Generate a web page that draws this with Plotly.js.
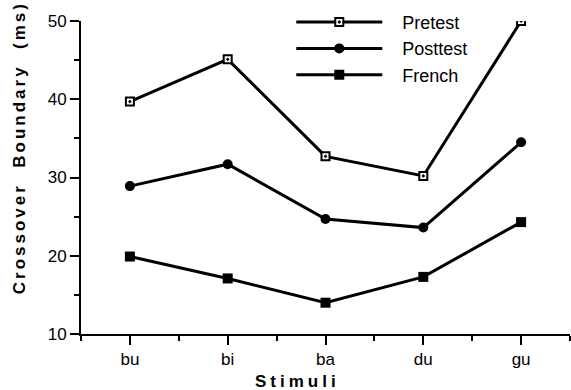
<!DOCTYPE html>
<html>
<head>
<meta charset="utf-8">
<script src="https://cdn.plot.ly/plotly-3.0.1.min.js"></script>
<style>
  html, body { margin: 0; padding: 0; background: #fff; }
  #chart { width: 571px; height: 390px; }
  .annotation[data-index="0"] text { letter-spacing: 4px; }
  .annotation[data-index="1"] text { letter-spacing: 3px; }
</style>
</head>
<body>
<div id="chart"></div>
<script>
const categories = ["bu", "bi", "ba", "du", "gu"];
const seriesNames = ["Pretest", "Posttest", "French"];
const pretest  = [39.7, 45.1, 32.7, 30.2, 50.0];
const posttest = [28.9, 31.7, 24.7, 23.6, 34.5];
const french   = [19.9, 17.1, 14.0, 17.3, 24.3];
const yTicks = [10, 20, 30, 40, 50];

const xIdx = categories.map((c, i) => i);
const font = "'Liberation Sans', Arial, Helvetica, sans-serif";
const pad = "\u00A0\u00A0\u00A0";

const traces = [
  {
    name: pad + seriesNames[0], x: xIdx, y: pretest, type: "scatter", mode: "lines+markers",
    legendgroup: "a",
    line: { color: "black", width: 3 },
    marker: { symbol: "square-dot", size: 8, color: "white", line: { color: "black", width: 2 } }
  },
  {
    name: pad + seriesNames[1], x: xIdx, y: posttest, type: "scatter", mode: "lines+markers",
    legendgroup: "b",
    line: { color: "black", width: 3 },
    marker: { symbol: "circle", size: 10, color: "black" }
  },
  {
    name: pad + seriesNames[2], x: xIdx, y: french, type: "scatter", mode: "lines+markers",
    legendgroup: "c",
    line: { color: "black", width: 3 },
    marker: { symbol: "square", size: 10, color: "black" }
  }
];

const layout = {
  width: 571, height: 390,
  margin: { l: 81, r: 1, t: 21, b: 56 },
  paper_bgcolor: "white", plot_bgcolor: "white",
  font: { family: font, color: "black" },
  showlegend: true,
  legend: {
    x: 0.43, xanchor: "left", y: 1.055, yanchor: "top",
    font: { size: 18, family: font, color: "black" },
    bgcolor: "rgba(0,0,0,0)", itemwidth: 86, tracegroupgap: 9,
    traceorder: "normal"
  },
  xaxis: {
    range: [-0.5, 4.5], tickmode: "array", tickvals: xIdx, ticktext: categories,
    showgrid: false, zeroline: false, showline: true, linecolor: "black", linewidth: 2,
    ticks: "outside", ticklen: 9, tickwidth: 2, tickcolor: "black",
    tickfont: { size: 17, family: font, color: "black" },
    minor: { dtick: 0.5, tick0: 0, ticks: "outside", ticklen: 5, tickwidth: 2, tickcolor: "black", showgrid: false }
  },
  yaxis: {
    range: [10, 50], tickmode: "array", tickvals: yTicks, ticktext: yTicks.map(String),
    showgrid: false, zeroline: false, showline: true, linecolor: "black", linewidth: 2,
    ticks: "outside", ticklen: 9, tickwidth: 2, tickcolor: "black",
    tickfont: { size: 17, family: font, color: "black" },
    minor: { dtick: 5, tick0: 10, ticks: "outside", ticklen: 5, tickwidth: 2, tickcolor: "black", showgrid: false }
  },
  annotations: [
    {
      text: "Stimuli", xref: "paper", yref: "paper", x: 0.442, y: 0, yshift: -47,
      xanchor: "center", yanchor: "middle", showarrow: false,
      font: { size: 17, family: font, color: "black", weight: "bold" }
    },
    {
      text: "Crossover\u00A0\u00A0Boundary\u00A0\u00A0(ms)", xref: "paper", yref: "paper", x: 0, xshift: -61, y: 0.595,
      xanchor: "center", yanchor: "middle", showarrow: false, textangle: -90,
      font: { size: 17, family: font, color: "black", weight: "bold" }
    }
  ]
};

Plotly.newPlot("chart", traces, layout, { displayModeBar: false, staticPlot: true });
</script>
</body>
</html>
